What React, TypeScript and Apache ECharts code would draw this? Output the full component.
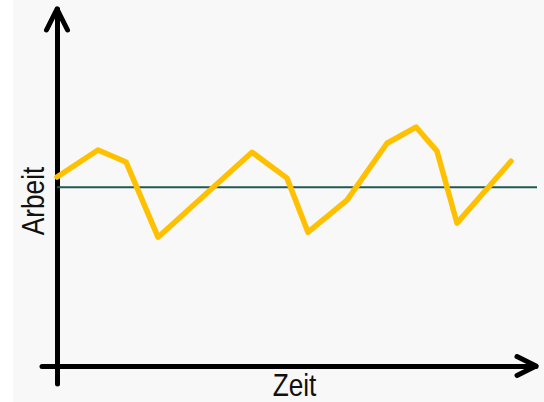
import React, { useEffect, useRef } from "react";
import * as echarts from "echarts";

// Data (arbitrary units)
const zeit = [0, 8.2, 13.8, 20.2, 39.0, 46.0, 50.2, 58.0, 66.0, 71.8, 76.0, 80.0, 90.8];
const arbeit = [52.5, 60.0, 56.7, 35.8, 59.4, 52.2, 37.2, 46.1, 61.9, 66.4, 59.7, 39.7, 56.9];
const referenzZeit = [0, 96.8];
const referenzArbeit = [49.7, 49.7];
const xRange = [-3, 95.8];
const yRange = [-5, 99.2];
const xName = "Zeit";
const yName = "Arbeit";

export default function App() {
  const ref = useRef<HTMLDivElement>(null);

  useEffect(() => {
    if (!ref.current) return;
    const chart = echarts.init(ref.current, null, { renderer: "svg" });
    const font = "'Liberation Sans', Arial, sans-serif";
    const axisCommon = {
      type: "value" as const,
      axisLine: { show: true, onZero: true, lineStyle: { color: "#000", width: 5 } },
      axisTick: { show: false },
      axisLabel: { show: false },
      splitLine: { show: false },
    };
    chart.setOption({
      animation: false,
      backgroundColor: "transparent",
      grid: { left: 42, right: 8, top: 9, bottom: 18, containLabel: false, outerBoundsMode: "none" },
      xAxis: { ...axisCommon, min: xRange[0], max: xRange[1] },
      yAxis: { ...axisCommon, min: yRange[0], max: yRange[1] },
      series: [
        {
          type: "line",
          data: referenzZeit.map((t, i) => [t, referenzArbeit[i]]),
          symbol: "none",
          clip: false,
          lineStyle: { color: "#1e5b4e", width: 2 },
          z: 2,
        },
        {
          type: "line",
          data: zeit.map((t, i) => [t, arbeit[i]]),
          symbol: "none",
          lineStyle: { color: "#FFC000", width: 5.5, cap: "round", join: "round" },
          z: 3,
        },
      ],
    });

    const top = chart.convertToPixel({ gridIndex: 0 }, [0, yRange[1]]) as number[];
    const right = chart.convertToPixel({ gridIndex: 0 }, [xRange[1], 0]) as number[];
    const arrowStyle = { stroke: "#000", lineWidth: 5, fill: null, lineCap: "round", lineJoin: "round" };
    const textStyle = { fontFamily: font, fontSize: 32, fill: "#111", align: "center", verticalAlign: "middle" };
    chart.setOption({
      graphic: [
        {
          type: "polyline",
          silent: true,
          z: 10,
          shape: {
            points: [
              [top[0] - 10.5, top[1] + 21],
              [top[0], top[1]],
              [top[0] + 10.5, top[1] + 21],
            ],
          },
          style: arrowStyle,
        },
        {
          type: "polyline",
          silent: true,
          z: 10,
          shape: {
            points: [
              [right[0] - 19, right[1] - 9.5],
              [right[0], right[1]],
              [right[0] - 19, right[1] + 9.5],
            ],
          },
          style: arrowStyle,
        },
        {
          type: "text",
          silent: true,
          x: 294.5,
          y: 385,
          scaleX: 0.82,
          style: { ...textStyle, text: xName },
        },
        {
          type: "text",
          silent: true,
          x: 33.5,
          y: 201,
          rotation: Math.PI / 2,
          scaleX: 0.82,
          style: { ...textStyle, text: yName },
        },
      ],
    });

    return () => chart.dispose();
  }, []);

  return (
    <div
      style={{
        position: "absolute",
        left: 0,
        top: 0,
        width: 544,
        height: 402,
        background: "linear-gradient(to right, #ffffff 13px, #f8f8f8 13px)",
      }}
    >
      <div ref={ref} style={{ width: 544, height: 402 }} />
    </div>
  );
}
